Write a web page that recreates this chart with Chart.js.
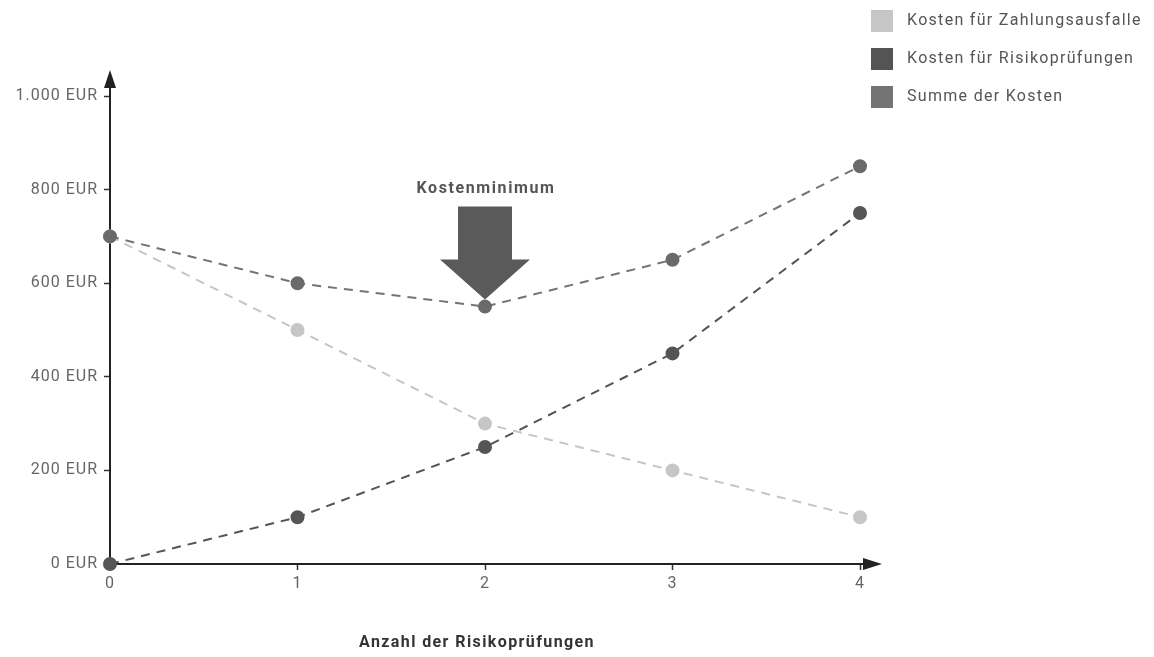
<!DOCTYPE html>
<html>
<head>
<meta charset="utf-8">
<script src="https://cdn.jsdelivr.net/npm/chart.js@4.4.1/dist/chart.umd.min.js"></script>
<style>
  html, body { margin: 0; padding: 0; background: #fff; }
  #wrap { position: relative; width: 1154px; height: 657px; }
</style>
</head>
<body>
<div id="wrap"><canvas id="c" width="1154" height="657"></canvas></div>
<script>
// Anzahl der Risikoprüfungen (x) and cost values in EUR
const pruefungen = [0, 1, 2, 3, 4];
const kostenZahlungsausfaelle = [700, 500, 300, 200, 100];
const kostenRisikopruefungen = [0, 100, 250, 450, 750];
const summeKosten = [700, 600, 550, 650, 850];

const yTicks = [0, 200, 400, 600, 800, 1000];
const xTicks = [0, 1, 2, 3, 4];

const seriesNames = ['Kosten für Zahlungsausfalle', 'Kosten für Risikoprüfungen', 'Summe der Kosten'];
const seriesColors = ['#c6c6c6', '#545454', '#747474'];
const pointColors = ['#c6c6c6', '#555555', '#6a6a6a'];

const xTitle = 'Anzahl der Risikoprüfungen';
const minimumLabel = 'Kostenminimum';
const minimumIndex = 2;

const FONT = "Roboto, 'DejaVu Sans', sans-serif";

function toPoints(values) {
  return pruefungen.map((x, i) => ({ x: x, y: values[i] }));
}

function fmtEUR(v) {
  return v.toLocaleString('de-DE') + ' EUR';
}

// spaced-out lettering for all canvas text
const spacing = {
  id: 'spacing',
  beforeDraw(chart) { chart.ctx.letterSpacing = '1px'; }
};

// axis arrows, cost-minimum marker, axis title and legend
const decorations = {
  id: 'decorations',
  afterDatasetsDraw(chart) {
    const { ctx, scales: { x, y } } = chart;
    const x0 = x.getPixelForValue(0);
    const y0 = y.getPixelForValue(0);
    const yTop = y.getPixelForValue(1000);
    const xEnd = x.getPixelForValue(4);
    ctx.save();
    ctx.fillStyle = '#222';
    ctx.strokeStyle = '#222';
    ctx.lineWidth = 2;
    // arrow on y axis
    ctx.beginPath();
    ctx.moveTo(x0, yTop);
    ctx.lineTo(x0, yTop - 10);
    ctx.stroke();
    ctx.beginPath();
    ctx.moveTo(x0, yTop - 26);
    ctx.lineTo(x0 - 6, yTop - 8);
    ctx.lineTo(x0 + 6, yTop - 8);
    ctx.closePath();
    ctx.fill();
    // arrow on x axis
    ctx.beginPath();
    ctx.moveTo(xEnd, y0);
    ctx.lineTo(xEnd + 6, y0);
    ctx.stroke();
    ctx.beginPath();
    ctx.moveTo(xEnd + 22, y0);
    ctx.lineTo(xEnd + 3, y0 - 6);
    ctx.lineTo(xEnd + 3, y0 + 6);
    ctx.closePath();
    ctx.fill();

    // cost minimum marker
    const mx = x.getPixelForValue(pruefungen[minimumIndex]);
    const my = y.getPixelForValue(summeKosten[minimumIndex]);
    const tip = my - 7;
    ctx.fillStyle = '#5a5a5a';
    ctx.beginPath();
    ctx.moveTo(mx, tip);
    ctx.lineTo(mx - 45, tip - 40);
    ctx.lineTo(mx - 27, tip - 40);
    ctx.lineTo(mx - 27, tip - 93);
    ctx.lineTo(mx + 27, tip - 93);
    ctx.lineTo(mx + 27, tip - 40);
    ctx.lineTo(mx + 45, tip - 40);
    ctx.closePath();
    ctx.fill();
    ctx.fillStyle = '#555';
    ctx.font = 'bold 16px ' + FONT;
    ctx.letterSpacing = '1.6px';
    ctx.textAlign = 'center';
    ctx.textBaseline = 'middle';
    ctx.fillText(minimumLabel, mx + 1, tip - 111);

    // x axis title
    ctx.fillStyle = '#333';
    ctx.font = 'bold 16px ' + FONT;
    ctx.letterSpacing = '1.4px';
    ctx.fillText(xTitle, (x.left + x.right) / 2 - 8, 643);

    // legend
    ctx.textAlign = 'left';
    ctx.font = '16px ' + FONT;
    ctx.letterSpacing = '1.3px';
    seriesNames.forEach((name, i) => {
      const cy = 21 + i * 38;
      ctx.fillStyle = seriesColors[i];
      ctx.fillRect(871, cy - 11, 22, 22);
      ctx.fillStyle = '#555';
      ctx.fillText(name, 907, cy);
    });
    ctx.restore();
  }
};

const ds = (label, values, i, order) => ({
  label: label,
  data: toPoints(values),
  borderColor: seriesColors[i],
  backgroundColor: pointColors[i],
  pointBackgroundColor: pointColors[i],
  pointBorderColor: pointColors[i],
  borderWidth: 2,
  borderDash: [9, 7],
  pointRadius: 6,
  pointHoverRadius: 6,
  tension: 0,
  clip: false,
  order: order
});

new Chart(document.getElementById('c'), {
  type: 'line',
  data: {
    datasets: [
      ds(seriesNames[2], summeKosten, 2, 0),
      ds(seriesNames[1], kostenRisikopruefungen, 1, 1),
      ds(seriesNames[0], kostenZahlungsausfaelle, 0, 2)
    ]
  },
  options: {
    responsive: false,
    animation: false,
    events: [],
    layout: { padding: { left: 0, right: 294, top: 96, bottom: 0 } },
    plugins: { legend: { display: false }, tooltip: { enabled: false } },
    scales: {
      x: {
        type: 'linear',
        min: 0,
        max: 4,
        afterBuildTicks(scale) { scale.ticks = xTicks.map(v => ({ value: v })); },
        afterFit(scale) { scale.height = 93; },
        grid: { drawOnChartArea: false, drawTicks: true, tickLength: 6, color: '#333', tickWidth: 1.5 },
        border: { display: true, color: '#222', width: 2 },
        ticks: {
          padding: 4,
          color: '#666',
          font: { family: FONT, size: 16 },
          callback: v => String(v)
        }
      },
      y: {
        type: 'linear',
        min: 0,
        max: 1000,
        afterBuildTicks(scale) { scale.ticks = yTicks.map(v => ({ value: v })); },
        afterFit(scale) { scale.width = 110; },
        grid: { drawOnChartArea: false, drawTicks: true, tickLength: 6, color: '#333', tickWidth: 1.5 },
        border: { display: true, color: '#222', width: 2 },
        ticks: {
          padding: 6,
          color: '#666',
          font: { family: FONT, size: 16 },
          callback: v => fmtEUR(v)
        }
      }
    }
  },
  plugins: [spacing, decorations]
});
</script>
</body>
</html>
